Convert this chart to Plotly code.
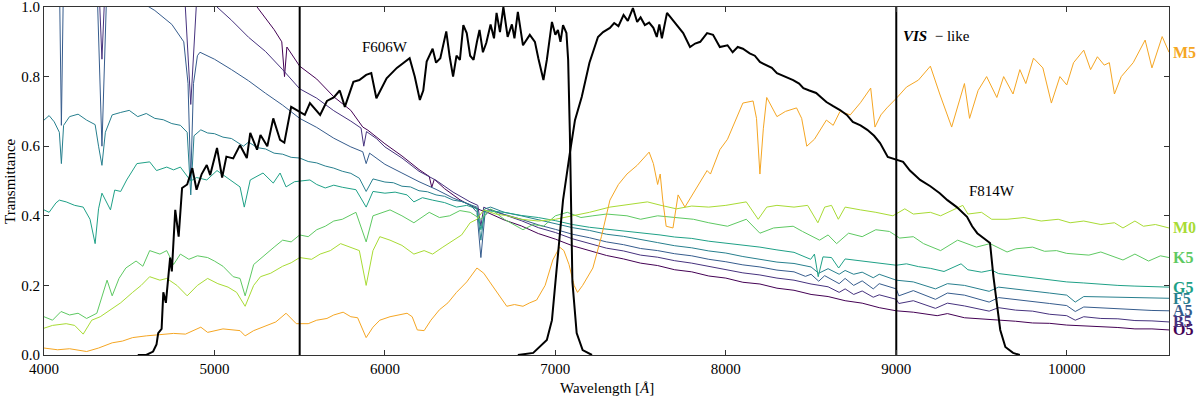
import plotly.graph_objects as go

# stellar spectra (scaled flux)
O5_WL = [4000, 4300, 4600, 4900, 5100, 5250, 5350, 5395, 5411, 5425, 5500, 5600, 5700, 5800,
         5870, 5900, 6000, 6100, 6200, 6260, 6275, 6290, 6350, 6440, 6500, 6563, 6600, 6700,
         6800, 6900, 7000, 7100, 7200, 7300, 7400, 7500, 7600, 7700, 7800, 7900, 8000, 8100,
         8200, 8300, 8400, 8500, 8600, 8700, 8800, 8900, 9000, 9100, 9240, 9300, 9400, 9500,
         9600, 9700, 9800, 9900, 10000, 10100, 10200, 10300, 10400, 10500, 10600]
O5_T = [1.9, 1.65, 1.42, 1.22, 1.1, 1.0, 0.935, 0.9, 0.8, 0.885, 0.83, 0.793, 0.742, 0.703,
        0.655, 0.646, 0.607, 0.572, 0.533, 0.513, 0.482, 0.505, 0.478, 0.446, 0.43, 0.416, 0.41, 0.388,
        0.371, 0.349, 0.333, 0.314, 0.301, 0.286, 0.276, 0.264, 0.257, 0.245, 0.239, 0.227, 0.221, 0.209,
        0.204, 0.192, 0.186, 0.174, 0.168, 0.156, 0.149, 0.136, 0.127, 0.123, 0.113, 0.119, 0.107, 0.104,
        0.099, 0.097, 0.092, 0.091, 0.086, 0.084, 0.08, 0.079, 0.075, 0.075, 0.072]

B5_WL = [4000, 4300, 4340, 4380, 4600, 4820, 4861, 4900, 5015, 5100, 5200, 5300, 5400, 5500,
         5600, 5700, 5800, 5860, 5876, 5892, 5950, 6000, 6100, 6200, 6300, 6400, 6500, 6545,
         6563, 6580, 6600, 6700, 6800, 6900, 7000, 7100, 7200, 7300, 7400, 7500, 7600, 7700,
         7800, 7900, 8000, 8100, 8200, 8300, 8400, 8500, 8600, 8665, 8700, 8750, 8800, 8865,
         8900, 9000, 9015, 9100, 9230, 9300, 9400, 9545, 9600, 9700, 9800, 9900, 10000, 10050,
         10100, 10200, 10300, 10400, 10500, 10600]
B5_T = [1.5, 1.33, 0.85, 1.31, 1.2, 1.08, 0.72, 1.06, 1.0, 0.962, 0.913, 0.872, 0.82, 0.765,
        0.738, 0.702, 0.672, 0.652, 0.6, 0.642, 0.622, 0.598, 0.566, 0.528, 0.502, 0.468, 0.44, 0.43,
        0.37, 0.425, 0.42, 0.403, 0.386, 0.366, 0.352, 0.334, 0.321, 0.307, 0.299, 0.287, 0.281, 0.271,
        0.264, 0.254, 0.246, 0.236, 0.23, 0.221, 0.215, 0.204, 0.196, 0.18, 0.19, 0.174, 0.184, 0.166,
        0.173, 0.16, 0.148, 0.156, 0.134, 0.149, 0.141, 0.126, 0.136, 0.129, 0.126, 0.117, 0.113, 0.1,
        0.11, 0.105, 0.104, 0.099, 0.098, 0.095]

A5_WL = [4000, 4060, 4090, 4102, 4115, 4150, 4250, 4310, 4340, 4370, 4450, 4550, 4650, 4750,
         4820, 4845, 4861, 4877, 4900, 4915, 5000, 5100, 5200, 5300, 5400, 5500, 5600, 5700,
         5800, 5870, 5890, 5910, 6000, 6100, 6200, 6300, 6400, 6500, 6540, 6563, 6586, 6620,
         6700, 6800, 6900, 7000, 7100, 7200, 7300, 7400, 7500, 7600, 7700, 7800, 7900, 8000,
         8100, 8200, 8300, 8400, 8467, 8500, 8545, 8580, 8665, 8700, 8750, 8800, 8865, 8900,
         9000, 9015, 9100, 9230, 9300, 9400, 9545, 9600, 9700, 9800, 9900, 10000, 10050, 10100,
         10200, 10300, 10400, 10500, 10600]
A5_T = [1.2, 1.18, 1.1, 0.66, 1.1, 1.16, 1.13, 1.08, 0.6, 1.08, 1.05, 1.02, 0.99, 0.95,
        0.9, 0.78, 0.5, 0.78, 0.86, 0.87, 0.85, 0.82, 0.788, 0.752, 0.718, 0.68, 0.654, 0.623,
        0.598, 0.584, 0.55, 0.58, 0.548, 0.523, 0.498, 0.476, 0.451, 0.432, 0.41, 0.28, 0.4, 0.418,
        0.404, 0.39, 0.374, 0.361, 0.347, 0.337, 0.325, 0.317, 0.306, 0.3, 0.291, 0.285, 0.275, 0.268,
        0.259, 0.253, 0.244, 0.239, 0.226, 0.232, 0.212, 0.228, 0.205, 0.22, 0.2, 0.213, 0.19, 0.205,
        0.19, 0.17, 0.185, 0.16, 0.178, 0.172, 0.152, 0.165, 0.16, 0.155, 0.148, 0.142, 0.125, 0.138,
        0.135, 0.132, 0.13, 0.128, 0.127]

F5_WL = [4000, 4030, 4060, 4090, 4102, 4115, 4150, 4200, 4250, 4300, 4320, 4340, 4360, 4400,
         4450, 4500, 4550, 4600, 4650, 4700, 4750, 4800, 4840, 4861, 4880, 4920, 4960, 5000,
         5050, 5100, 5170, 5200, 5250, 5300, 5350, 5400, 5450, 5500, 5550, 5600, 5650, 5700,
         5750, 5800, 5850, 5890, 5930, 6000, 6050, 6100, 6150, 6200, 6250, 6300, 6350, 6400,
         6450, 6500, 6540, 6563, 6586, 6620, 6700, 6800, 6900, 7000, 7100, 7200, 7300, 7400,
         7500, 7600, 7700, 7800, 7900, 8000, 8100, 8200, 8300, 8400, 8500, 8545, 8600, 8665,
         8700, 8750, 8800, 8865, 8900, 9000, 9100, 9230, 9300, 9400, 9545, 9600, 9700, 9800,
         9900, 10000, 10050, 10100, 10200, 10300, 10400, 10500, 10600]
F5_T = [0.675, 0.688, 0.67, 0.64, 0.55, 0.66, 0.685, 0.692, 0.675, 0.662, 0.6, 0.545, 0.64, 0.69,
        0.697, 0.703, 0.685, 0.694, 0.68, 0.676, 0.665, 0.66, 0.64, 0.46, 0.63, 0.647, 0.638, 0.636,
        0.626, 0.622, 0.6, 0.612, 0.596, 0.592, 0.58, 0.577, 0.568, 0.566, 0.556, 0.552, 0.543, 0.537,
        0.528, 0.522, 0.508, 0.47, 0.506, 0.497, 0.495, 0.485, 0.483, 0.472, 0.469, 0.46, 0.456, 0.445,
        0.441, 0.433, 0.425, 0.33, 0.42, 0.425, 0.41, 0.4, 0.389, 0.379, 0.366, 0.358, 0.347, 0.341,
        0.331, 0.323, 0.314, 0.308, 0.299, 0.293, 0.283, 0.276, 0.267, 0.263, 0.253, 0.235, 0.248, 0.232,
        0.243, 0.232, 0.238, 0.222, 0.232, 0.215, 0.21, 0.19, 0.205, 0.2, 0.183, 0.195, 0.19, 0.185,
        0.178, 0.172, 0.152, 0.168, 0.167, 0.166, 0.165, 0.164, 0.163]

G5_WL = [4000, 4030, 4070, 4090, 4130, 4180, 4230, 4270, 4300, 4320, 4340, 4390, 4415, 4450,
         4485, 4545, 4620, 4660, 4720, 4760, 4800, 4861, 4895, 4955, 5015, 5060, 5100, 5150,
         5175, 5210, 5285, 5345, 5385, 5420, 5470, 5500, 5560, 5600, 5650, 5700, 5750, 5830,
         5890, 5930, 6000, 6060, 6130, 6170, 6220, 6280, 6350, 6420, 6480, 6540, 6563, 6590,
         6650, 6700, 6800, 6900, 7000, 7100, 7200, 7300, 7400, 7500, 7614, 7700, 7800, 7900,
         8000, 8100, 8200, 8300, 8400, 8498, 8520, 8542, 8570, 8620, 8662, 8700, 8800, 8900,
         9000, 9060, 9130, 9200, 9280, 9380, 9420, 9500, 9560, 9600, 9700, 9800, 9900, 10000,
         10100, 10200, 10300, 10400, 10500, 10600]
G5_T = [0.417, 0.41, 0.437, 0.445, 0.44, 0.43, 0.425, 0.39, 0.32, 0.42, 0.465, 0.417, 0.474, 0.47,
        0.503, 0.55, 0.555, 0.53, 0.54, 0.532, 0.54, 0.5, 0.51, 0.503, 0.53, 0.515, 0.5, 0.483,
        0.425, 0.503, 0.523, 0.494, 0.523, 0.483, 0.498, 0.5, 0.503, 0.49, 0.48, 0.488, 0.482, 0.475,
        0.425, 0.47, 0.465, 0.468, 0.46, 0.44, 0.452, 0.445, 0.438, 0.425, 0.43, 0.42, 0.36, 0.415,
        0.412, 0.41, 0.401, 0.395, 0.386, 0.375, 0.367, 0.362, 0.355, 0.351, 0.345, 0.339, 0.335, 0.327,
        0.322, 0.316, 0.31, 0.302, 0.295, 0.275, 0.29, 0.225, 0.282, 0.28, 0.25, 0.276, 0.27, 0.266,
        0.258, 0.262, 0.254, 0.249, 0.24, 0.262, 0.245, 0.238, 0.244, 0.234, 0.228, 0.222, 0.215, 0.21,
        0.207, 0.203, 0.2, 0.198, 0.196, 0.195]

K5_WL = [4000, 4050, 4100, 4150, 4200, 4250, 4310, 4370, 4400, 4440, 4480, 4540, 4580, 4620,
         4680, 4720, 4760, 4800, 4850, 4900, 4960, 5000, 5050, 5110, 5150, 5180, 5230, 5300,
         5350, 5400, 5450, 5500, 5550, 5600, 5650, 5700, 5750, 5830, 5890, 5930, 6030, 6100,
         6170, 6260, 6320, 6380, 6440, 6500, 6563, 6620, 6700, 6810, 6870, 6930, 7000, 7070,
         7150, 7220, 7300, 7420, 7500, 7600, 7700, 7810, 7900, 8010, 8120, 8200, 8280, 8395,
         8450, 8550, 8600, 8650, 8720, 8800, 8880, 8960, 9020, 9100, 9160, 9260, 9360, 9410,
         9470, 9550, 9650, 9700, 9800, 9870, 9940, 10000, 10130, 10200, 10260, 10330, 10400, 10480,
         10550, 10600]
K5_T = [0.11, 0.1, 0.125, 0.115, 0.12, 0.105, 0.12, 0.215, 0.17, 0.22, 0.25, 0.27, 0.255, 0.3,
        0.29, 0.3, 0.26, 0.29, 0.275, 0.285, 0.28, 0.27, 0.255, 0.225, 0.22, 0.17, 0.26, 0.29,
        0.31, 0.33, 0.325, 0.345, 0.34, 0.36, 0.37, 0.385, 0.39, 0.41, 0.325, 0.4, 0.417, 0.4,
        0.38, 0.41, 0.395, 0.4, 0.415, 0.41, 0.39, 0.42, 0.39, 0.36, 0.375, 0.37, 0.4, 0.41,
        0.395, 0.4, 0.405, 0.4, 0.39, 0.4, 0.395, 0.39, 0.38, 0.37, 0.39, 0.35, 0.365, 0.37,
        0.355, 0.33, 0.345, 0.32, 0.35, 0.34, 0.36, 0.355, 0.336, 0.34, 0.32, 0.3, 0.33, 0.32,
        0.31, 0.32, 0.296, 0.305, 0.31, 0.298, 0.3, 0.292, 0.287, 0.296, 0.285, 0.273, 0.29, 0.27,
        0.285, 0.28]

M0_WL = [4000, 4050, 4130, 4180, 4230, 4280, 4330, 4390, 4450, 4520, 4570, 4620, 4680, 4720,
         4780, 4840, 4900, 4960, 5020, 5080, 5130, 5180, 5230, 5270, 5330, 5400, 5450, 5500,
         5570, 5620, 5680, 5740, 5800, 5850, 5890, 5930, 5970, 6030, 6100, 6170, 6230, 6280,
         6340, 6400, 6450, 6500, 6540, 6580, 6650, 6720, 6800, 6900, 7000, 7100, 7200, 7320,
         7400, 7540, 7620, 7710, 7800, 7900, 8000, 8120, 8190, 8240, 8300, 8400, 8480, 8540,
         8580, 8620, 8660, 8700, 8790, 8880, 8980, 9050, 9100, 9200, 9260, 9330, 9390, 9420,
         9500, 9560, 9650, 9750, 9850, 9950, 10020, 10100, 10200, 10280, 10330, 10400, 10450, 10520,
         10600]
M0_T = [0.077, 0.085, 0.09, 0.085, 0.06, 0.1, 0.11, 0.13, 0.15, 0.18, 0.2, 0.225, 0.215, 0.22,
        0.2, 0.17, 0.2, 0.22, 0.205, 0.195, 0.18, 0.14, 0.2, 0.225, 0.235, 0.255, 0.265, 0.28,
        0.275, 0.29, 0.3, 0.32, 0.31, 0.3, 0.2, 0.3, 0.34, 0.33, 0.315, 0.29, 0.3, 0.29,
        0.31, 0.33, 0.345, 0.38, 0.39, 0.417, 0.405, 0.4, 0.39, 0.385, 0.39, 0.4, 0.41, 0.425,
        0.43, 0.44, 0.43, 0.42, 0.428, 0.425, 0.43, 0.44, 0.39, 0.425, 0.43, 0.425, 0.43, 0.38,
        0.425, 0.43, 0.39, 0.425, 0.417, 0.41, 0.4, 0.42, 0.405, 0.41, 0.4, 0.417, 0.43, 0.405,
        0.41, 0.39, 0.39, 0.395, 0.385, 0.39, 0.38, 0.385, 0.375, 0.38, 0.365, 0.385, 0.37, 0.375,
        0.365]

M5_WL = [4000, 4080, 4150, 4250, 4320, 4400, 4460, 4520, 4600, 4680, 4760, 4830, 4920, 4960,
         5050, 5150, 5180, 5230, 5310, 5360, 5420, 5480, 5550, 5600, 5660, 5700, 5755, 5800,
         5840, 5890, 5930, 5970, 6030, 6080, 6130, 6160, 6190, 6230, 6270, 6320, 6370, 6420,
         6480, 6540, 6580, 6615, 6660, 6715, 6760, 6810, 6850, 6890, 6940, 6985, 7025, 7050,
         7080, 7110, 7130, 7160, 7220, 7270, 7320, 7370, 7420, 7480, 7550, 7575, 7600, 7615,
         7630, 7650, 7690, 7720, 7760, 7810, 7850, 7890, 7910, 7965, 8010, 8060, 8100, 8160,
         8180, 8200, 8220, 8240, 8300, 8350, 8415, 8445, 8475, 8520, 8590, 8630, 8670, 8730,
         8790, 8850, 8875, 8910, 8945, 9005, 9060, 9130, 9200, 9255, 9325, 9370, 9400, 9430,
         9480, 9530, 9590, 9630, 9685, 9725, 9760, 9805, 9860, 9910, 9960, 10000, 10040, 10100,
         10140, 10180, 10220, 10250, 10280, 10320, 10390, 10460, 10500, 10560, 10600]
M5_T = [0.02, 0.015, 0.018, 0.01, 0.02, 0.035, 0.04, 0.05, 0.055, 0.058, 0.062, 0.06, 0.08, 0.065,
        0.075, 0.07, 0.055, 0.07, 0.085, 0.095, 0.12, 0.09, 0.09, 0.1, 0.105, 0.115, 0.123, 0.11,
        0.107, 0.05, 0.08, 0.1, 0.11, 0.115, 0.12, 0.11, 0.072, 0.07, 0.1, 0.13, 0.15, 0.18,
        0.21, 0.25, 0.235, 0.21, 0.18, 0.14, 0.145, 0.14, 0.15, 0.158, 0.2, 0.273, 0.31, 0.3,
        0.26, 0.2, 0.18, 0.2, 0.25, 0.34, 0.445, 0.49, 0.52, 0.545, 0.583, 0.55, 0.49, 0.52,
        0.445, 0.37, 0.365, 0.46, 0.425, 0.465, 0.5, 0.53, 0.52, 0.59, 0.62, 0.68, 0.724, 0.73,
        0.68, 0.52, 0.65, 0.74, 0.685, 0.7, 0.71, 0.68, 0.6, 0.62, 0.675, 0.66, 0.7, 0.69,
        0.725, 0.767, 0.655, 0.69, 0.71, 0.74, 0.77, 0.79, 0.83, 0.75, 0.655, 0.73, 0.78, 0.68,
        0.76, 0.8, 0.74, 0.8, 0.75, 0.82, 0.78, 0.853, 0.825, 0.724, 0.8, 0.776, 0.84, 0.876,
        0.82, 0.857, 0.833, 0.84, 0.75, 0.8, 0.84, 0.905, 0.825, 0.915, 0.87]

# filter transmission curves
F606W_WL = [4550, 4600, 4640, 4660, 4670, 4690, 4700, 4715, 4740, 4750, 4770, 4790, 4810, 4840,
            4870, 4895, 4925, 4955, 4975, 5015, 5045, 5070, 5110, 5150, 5190, 5210, 5250, 5270,
            5310, 5345, 5385, 5410, 5450, 5500, 5530, 5560, 5620, 5660, 5700, 5735, 5765, 5815,
            5850, 5890, 5920, 5950, 6010, 6070, 6110, 6145, 6175, 6205, 6225, 6245, 6280, 6300,
            6325, 6360, 6380, 6400, 6420, 6440, 6460, 6480, 6500, 6520, 6540, 6555, 6575, 6595,
            6620, 6640, 6655, 6675, 6695, 6720, 6745, 6760, 6780, 6810, 6850, 6880, 6900, 6930,
            6950, 6980, 7000, 7015, 7030, 7045, 7065, 7075, 7085, 7092, 7100, 7125, 7160, 7215]
F606W_T = [0.0, 0.0, 0.01, 0.03, 0.063, 0.075, 0.18, 0.15, 0.28, 0.24, 0.417, 0.34, 0.48, 0.49,
           0.537, 0.475, 0.52, 0.546, 0.517, 0.595, 0.51, 0.57, 0.565, 0.603, 0.566, 0.638, 0.59, 0.632,
           0.6, 0.68, 0.618, 0.61, 0.713, 0.7, 0.69, 0.724, 0.69, 0.73, 0.74, 0.76, 0.713, 0.785,
           0.79, 0.805, 0.81, 0.738, 0.795, 0.825, 0.84, 0.853, 0.8, 0.733, 0.76, 0.843, 0.88, 0.84,
           0.853, 0.93, 0.857, 0.8, 0.86, 0.848, 0.948, 0.925, 0.86, 0.848, 0.9, 0.934, 0.87, 0.897,
           0.95, 0.91, 0.983, 0.928, 1.0, 0.914, 0.95, 0.91, 0.986, 0.89, 0.92, 0.9, 0.853, 0.79,
           0.848, 0.957, 0.92, 0.934, 0.9, 0.948, 0.925, 0.848, 0.64, 0.445, 0.21, 0.063, 0.014, 0.0]

F814W_WL = [6780, 6870, 6950, 6980, 7000, 7025, 7045, 7085, 7115, 7155, 7200, 7250, 7280, 7320,
            7345, 7370, 7400, 7425, 7455, 7480, 7500, 7525, 7550, 7575, 7595, 7610, 7625, 7655,
            7700, 7750, 7790, 7820, 7850, 7890, 7925, 7965, 8010, 8040, 8070, 8100, 8140, 8170,
            8200, 8240, 8270, 8300, 8350, 8395, 8430, 8455, 8490, 8530, 8560, 8590, 8630, 8670,
            8710, 8745, 8790, 8830, 8870, 8905, 8950, 9005, 9040, 9080, 9140, 9200, 9255, 9300,
            9355, 9415, 9445, 9475, 9530, 9550, 9570, 9590, 9610, 9640, 9685, 9725]
F814W_T = [0.0, 0.006, 0.043, 0.1, 0.207, 0.33, 0.445, 0.58, 0.675, 0.742, 0.84, 0.914, 0.928, 0.94,
           0.954, 0.945, 0.977, 0.96, 0.997, 0.957, 0.97, 0.948, 0.955, 0.94, 0.914, 0.95, 0.91, 0.983,
           0.954, 0.925, 0.885, 0.895, 0.9, 0.925, 0.92, 0.885, 0.89, 0.87, 0.885, 0.88, 0.867, 0.86,
           0.842, 0.833, 0.825, 0.81, 0.8, 0.79, 0.78, 0.767, 0.76, 0.753, 0.74, 0.727, 0.715, 0.704,
           0.69, 0.67, 0.66, 0.647, 0.63, 0.609, 0.569, 0.56, 0.555, 0.53, 0.503, 0.485, 0.465, 0.445,
           0.425, 0.397, 0.37, 0.35, 0.33, 0.322, 0.225, 0.15, 0.072, 0.023, 0.006, 0.0]

STARS = ["O5", "B5", "A5", "F5", "G5", "K5", "M0", "M5"]
STAR_WL = [O5_WL, B5_WL, A5_WL, F5_WL, G5_WL, K5_WL, M0_WL, M5_WL]
STAR_T = [O5_T, B5_T, A5_T, F5_T, G5_T, K5_T, M0_T, M5_T]
STAR_COLORS = ["#440154", "#46327e", "#365c8d", "#277f8e", "#1fa187", "#5ec962", "#a8db34", "#f5a623"]

VIS_EDGES = [5500, 9000]
X_TICKS = [4000, 5000, 6000, 7000, 8000, 9000, 10000]
Y_TICKS = [0.0, 0.2, 0.4, 0.6, 0.8, 1.0]

FONT = "Liberation Serif"

fig = go.Figure()

for name, wl, t, c in zip(STARS, STAR_WL, STAR_T, STAR_COLORS):
    fig.add_trace(go.Scatter(x=wl, y=t, mode="lines", name=name,
                             line=dict(color=c, width=1)))
    fig.add_annotation(x=wl[-1], y=t[-1], text="<b>%s</b>" % name, showarrow=False,
                       xanchor="left", xshift=2, font=dict(color=c, size=16, family=FONT))

for wl, t in [(F606W_WL, F606W_T), (F814W_WL, F814W_T)]:
    fig.add_trace(go.Scatter(x=wl, y=t, mode="lines", line=dict(color="black", width=2)))

for edge in VIS_EDGES:
    fig.add_trace(go.Scatter(x=[edge, edge], y=[0, 1], mode="lines",
                             line=dict(color="black", width=2)))

fig.add_annotation(x=6000, y=0.885, text="F606W", showarrow=False,
                   font=dict(size=15, family=FONT, color="black"))
fig.add_annotation(x=9560, y=0.47, text="F814W", showarrow=False,
                   font=dict(size=15, family=FONT, color="black"))
fig.add_annotation(x=9030, y=0.917, text="<b><i>VIS</i></b>  \u2212 like", showarrow=False,
                   xanchor="left", font=dict(size=15, family=FONT, color="black"))

# axis titles placed by hand, as in the matplotlib original
fig.add_annotation(xref="paper", yref="paper", x=0, y=0.5, xshift=-34, textangle=-90,
                   xanchor="center", yanchor="middle",
                   text="Transmittance", showarrow=False,
                   font=dict(size=15, family=FONT, color="black"))
fig.add_annotation(xref="paper", yref="paper", x=0.5, y=0, yshift=-33,
                   xanchor="center", yanchor="middle",
                   text="Wavelength [<i>Å</i>]", showarrow=False,
                   font=dict(size=15, family=FONT, color="black"))

axis_style = dict(showline=True, linecolor="#333", linewidth=1, mirror="ticks",
                  ticks="inside", ticklen=5, tickcolor="#333", showgrid=False,
                  zeroline=False, automargin=False, ticklabeloverflow="allow",
                  tickfont=dict(size=15, family=FONT, color="black"))

fig.update_xaxes(range=[4000, 10600], tickvals=X_TICKS, tickformat="d", **axis_style)
fig.update_yaxes(range=[0, 1], tickvals=Y_TICKS, tickformat=".1f", **axis_style)

fig.update_layout(width=1200, height=398, showlegend=False,
                  paper_bgcolor="white", plot_bgcolor="white",
                  margin=dict(l=44, r=31, t=7, b=43))

# drop the page's default 8 px body margin so the figure sits at the window corner
fig.write_html("out.html", config={"displayModeBar": False},
               post_script="document.body.style.margin = '0';")
